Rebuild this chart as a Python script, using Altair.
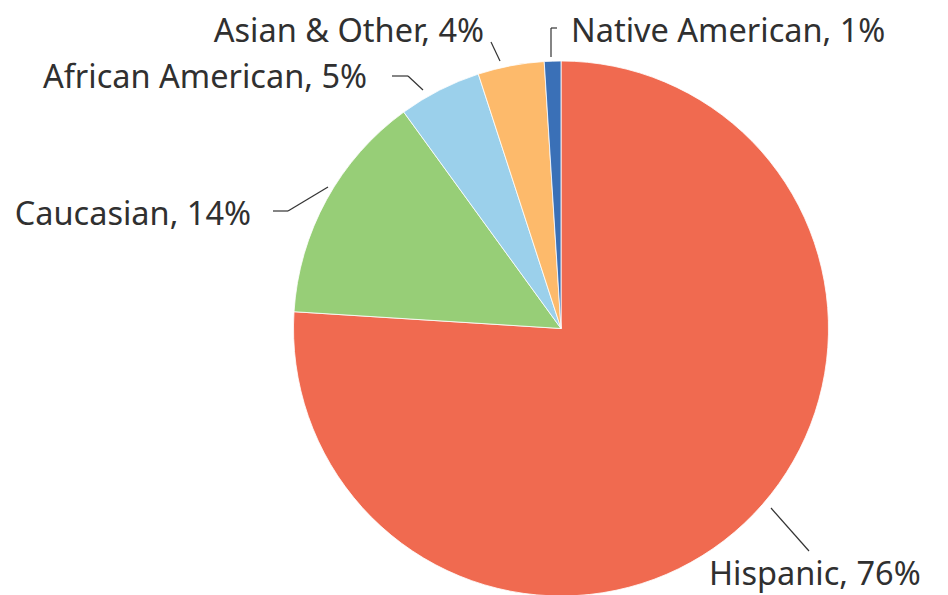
import altair as alt
import pandas as pd

categories = ["Hispanic", "Caucasian", "African American", "Asian & Other", "Native American"]
values = [76, 14, 5, 4, 1]
colors = ["#F06A50", "#97CE77", "#9BD0EB", "#FDBA6B", "#3A70B7"]

W, H = 932, 587
OX, OY = 8, 8  # page margin offset
CX, CY, R = 561, 328.5, 267.5

df = pd.DataFrame({"cat": categories, "val": values, "ord": list(range(len(categories)))})

pie = alt.Chart(df).mark_arc(stroke="white", strokeWidth=0.8).encode(
    theta=alt.Theta("val:Q", stack=True),
    order=alt.Order("ord:Q"),
    color=alt.Color("cat:N", scale=alt.Scale(domain=categories, range=colors), legend=None),
    x=alt.value(CX - OX),
    y=alt.value(CY - OY),
    radius=alt.value(R),
)

FONT = "Noto Sans"
FS = 32.5
TXT = "#303030"

# label anchor positions (image coords): x, baseline y, align
label_pos = {
    "Hispanic": (709, 585, "left"),
    "Caucasian": (251, 225, "right"),
    "African American": (367, 88, "right"),
    "Asian & Other": (484, 42, "right"),
    "Native American": (571, 42, "left"),
}

layers = [pie]
for c, v in zip(categories, values):
    lx, ly, al = label_pos[c]
    layers.append(
        alt.Chart(pd.DataFrame({"t": [f"{c}, {v}%"]})).mark_text(
            font=FONT, fontSize=FS, color=TXT, align=al, baseline="alphabetic"
        ).encode(text="t:N", x=alt.value(lx - OX), y=alt.value(ly - OY))
    )

# leader line segments (image coords)
segments = [
    (771, 508, 809, 551),
    (273, 211, 288, 211), (288, 211, 328, 187),
    (392, 76, 408, 76), (408, 76, 423, 90),
    (491, 42, 500, 61),
    (551, 28, 557, 28), (551, 28, 551, 57),
]
for x1, y1, x2, y2 in segments:
    layers.append(
        alt.Chart(pd.DataFrame({"a": [0]})).mark_rule(color="#333333", strokeWidth=1.2).encode(
            x=alt.value(x1 - OX), y=alt.value(y1 - OY), x2=alt.value(x2 - OX), y2=alt.value(y2 - OY)
        )
    )

chart = alt.layer(*layers).properties(
    width=W, height=H, padding=0, autosize=alt.AutoSizeParams(type="none")
).configure_view(stroke=None)

chart.save("out.html", embed_options={"renderer": "svg", "actions": False})
